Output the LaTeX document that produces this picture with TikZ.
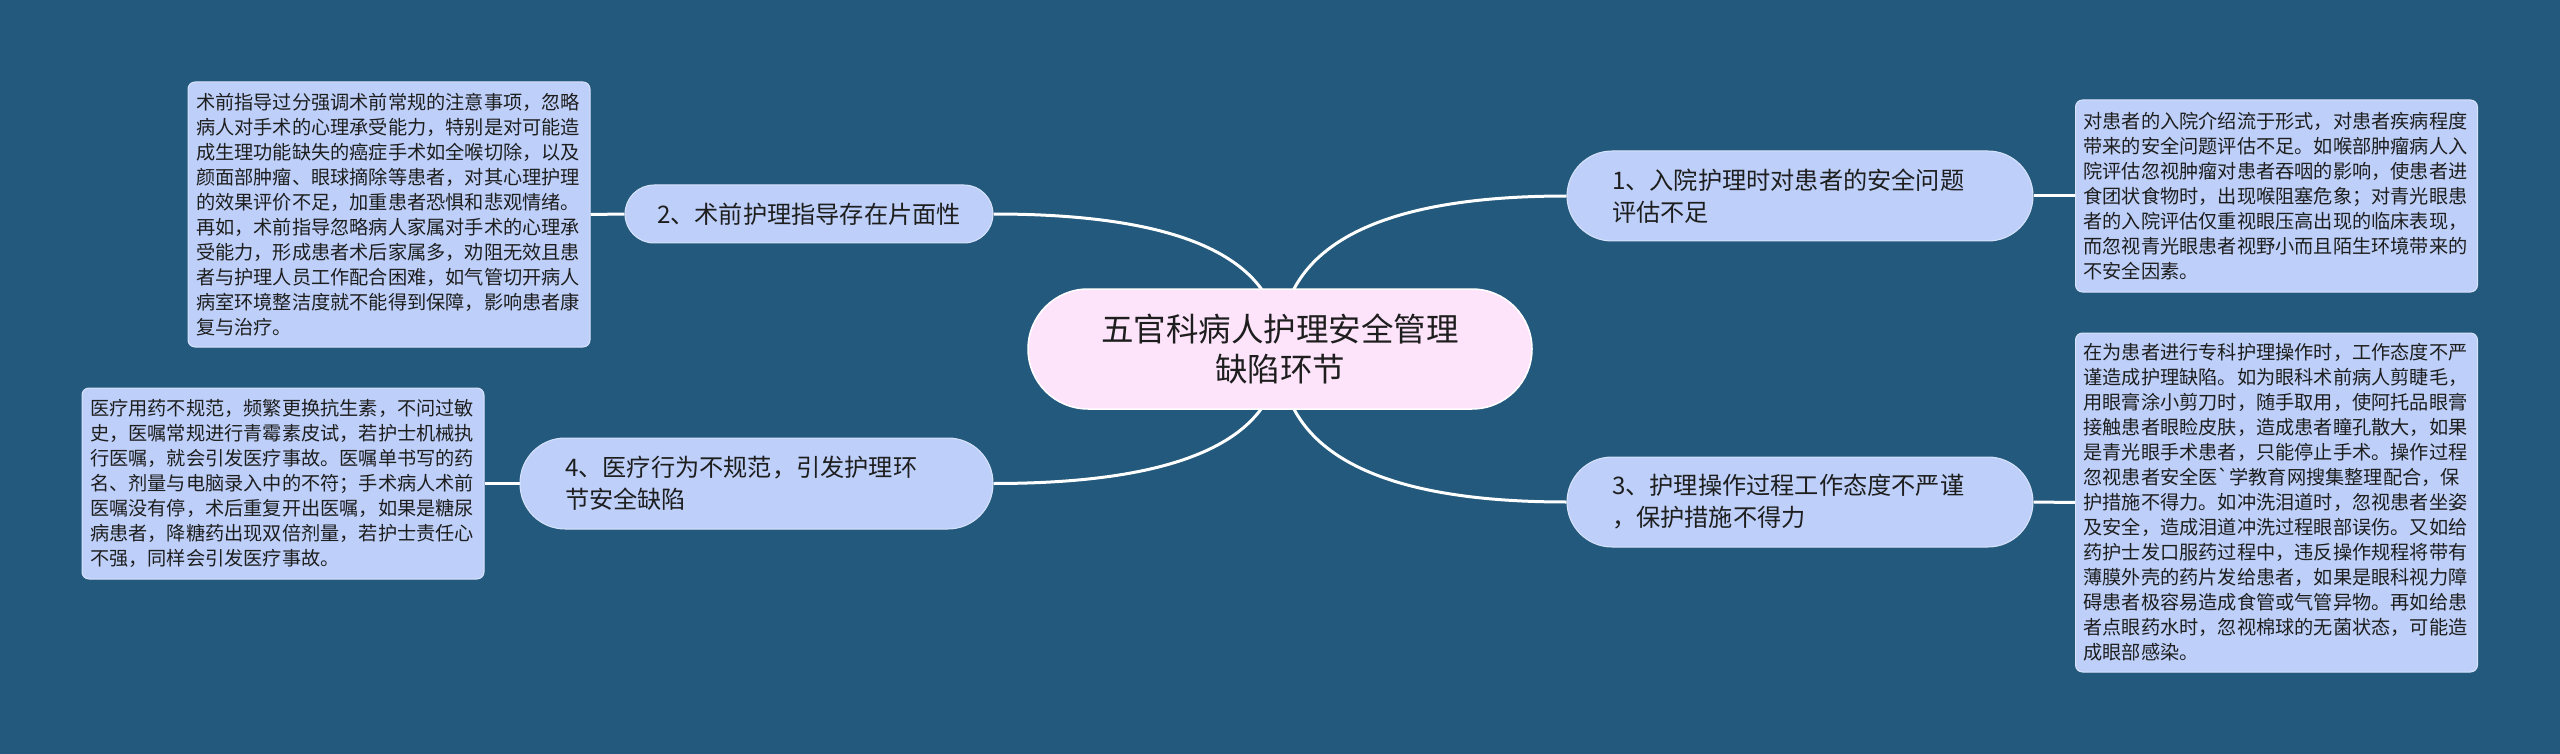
\documentclass[tikz,border=0pt]{standalone}
\usepackage{fontspec}
\setmainfont{Noto Sans CJK SC}[Ligatures=TeXOff]
\pgfdeclarelayer{back}
\pgfdeclarelayer{lines}
\pgfsetlayers{back,lines,main}
\definecolor{bgblue}{RGB}{35,89,124}
\definecolor{peri}{RGB}{190,208,250}
\definecolor{centerpink}{RGB}{253,228,250}
\definecolor{txt}{RGB}{30,30,30}
\tikzset{
  centerbox/.style={draw=white, line width=1.5pt, fill=centerpink, text=txt,
    rounded corners=60pt, minimum width=504pt, minimum height=120pt, inner sep=0pt,
    align=center, font=\fontsize{32.5}{40}\selectfont},
  branchbox/.style={draw=peri!60!white, line width=1pt, fill=peri, text=txt,
    minimum width=466pt, minimum height=90pt, inner sep=0pt, rounded corners=45pt,
    text width=376pt, align=left, font=\fontsize{24.2}{32}\selectfont},
  notebox/.style={draw=peri!60!white, line width=1pt, fill=peri, text=txt,
    rounded corners=7pt, minimum width=402pt, inner xsep=8pt, inner ysep=0pt,
    text width=386pt, align=left, font=\fontsize{19.2}{25}\selectfont},
  link/.style={draw=white, line width=3pt},
}
\begin{document}
\begin{tikzpicture}[x=1pt, y=-1pt]
\useasboundingbox (0,0) rectangle (2560,754);
\begin{pgfonlayer}{back}
  \fill[bgblue] (0,0) rectangle (2560,754);
\end{pgfonlayer}

\node[centerbox] (c) at (1280,349) {五官科病人护理安全管理\\缺陷环节};

\node[branchbox] (n1) at (1800,196) {1、入院护理时对患者的安全问题\\评估不足};
\node[branchbox, minimum width=368pt, minimum height=58pt, rounded corners=29pt, text width=, align=center] (n2) at (809,214) {2、术前护理指导存在片面性};
\node[branchbox] (n3) at (1800,502) {3、护理操作过程工作态度不严谨\\，保护措施不得力};
\node[branchbox, minimum width=473pt, minimum height=91pt, text width=383pt] (n4) at (756.5,483.5) {4、医疗行为不规范，引发护理环\\节安全缺陷};

\node[notebox, minimum height=265pt] (d2) at (389,214.5) {术前指导过分强调术前常规的注意事项，忽略\\病人对手术的心理承受能力，特别是对可能造\\成生理功能缺失的癌症手术如全喉切除，以及\\颜面部肿瘤、眼球摘除等患者，对其心理护理\\的效果评价不足，加重患者恐惧和悲观情绪。\\再如，术前指导忽略病人家属对手术的心理承\\受能力，形成患者术后家属多，劝阻无效且患\\者与护理人员工作配合困难，如气管切开病人\\病室环境整洁度就不能得到保障，影响患者康\\复与治疗。};

\node[notebox, minimum height=192pt] (d1) at (2276.5,196) {对患者的入院介绍流于形式，对患者疾病程度\\带来的安全问题评估不足。如喉部肿瘤病人入\\院评估忽视肿瘤对患者吞咽的影响，使患者进\\食团状食物时，出现喉阻塞危象；对青光眼患\\者的入院评估仅重视眼压高出现的临床表现，\\而忽视青光眼患者视野小而且陌生环境带来的\\不安全因素。};

\node[notebox, minimum height=339pt] (d3) at (2276.5,502.5) {在为患者进行专科护理操作时，工作态度不严\\谨造成护理缺陷。如为眼科术前病人剪睫毛，\\用眼膏涂小剪刀时，随手取用，使阿托品眼膏\\接触患者眼睑皮肤，造成患者瞳孔散大，如果\\是青光眼手术患者，只能停止手术。操作过程\\忽视患者安全医`学教育网搜集整理配合，保\\护措施不得力。如冲洗泪道时，忽视患者坐姿\\及安全，造成泪道冲洗过程眼部误伤。又如给\\药护士发口服药过程中，违反操作规程将带有\\薄膜外壳的药片发给患者，如果是眼科视力障\\碍患者极容易造成食管或气管异物。再如给患\\者点眼药水时，忽视棉球的无菌状态，可能造\\成眼部感染。};

\node[notebox, minimum height=191pt] (d4) at (283,483.5) {医疗用药不规范，频繁更换抗生素，不问过敏\\史，医嘱常规进行青霉素皮试，若护士机械执\\行医嘱，就会引发医疗事故。医嘱单书写的药\\名、剂量与电脑录入中的不符；手术病人术前\\医嘱没有停，术后重复开出医嘱，如果是糖尿\\病患者，降糖药出现双倍剂量，若护士责任心\\不强，同样会引发医疗事故。};

\begin{pgfonlayer}{lines}
  \draw[link] (c.center) .. controls (1280,247) and (1375.7,196) .. (n1.west);
  \draw[link] (c.center) .. controls (1280,259) and (1184.3,214) .. (n2.east);
  \draw[link] (c.center) .. controls (1280,451) and (1375.7,502) .. (n3.west);
  \draw[link] (c.center) .. controls (1280,438.3) and (1184.3,483.5) .. (n4.east);
  \draw[link] (n1.east) -- (d1.west);
  \draw[link] (n2.west) -- (d2.east);
  \draw[link] (n3.east) -- (d3.west);
  \draw[link] (n4.west) -- (d4.east);
\end{pgfonlayer}
\end{tikzpicture}
\end{document}
